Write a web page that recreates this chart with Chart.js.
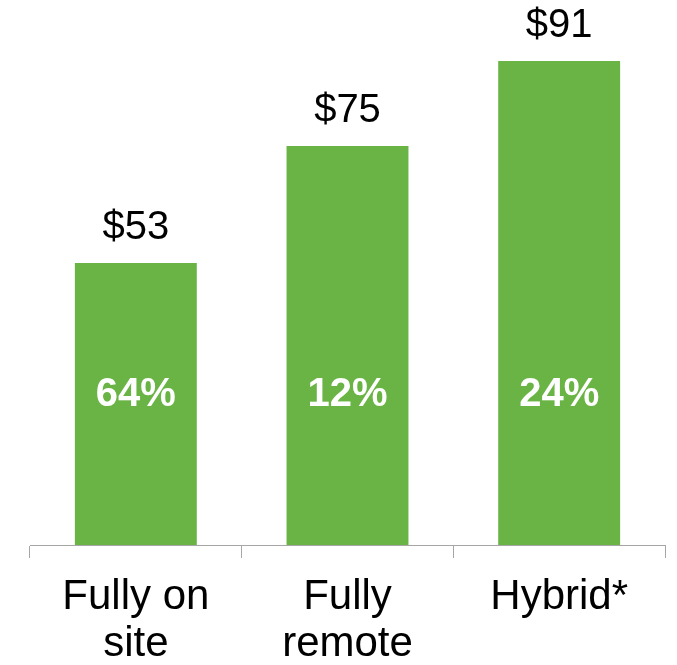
<!DOCTYPE html>
<html>
<head>
<meta charset="utf-8">
<script src="https://cdn.jsdelivr.net/npm/chart.js@4"></script>
<style>
  html, body { margin: 0; padding: 0; background: #fff; }
  #wrap { width: 677px; height: 665px; }
</style>
</head>
<body>
<div id="wrap"><canvas id="chart1"></canvas></div>
<script>
// data
var categories = [["Fully on", "site"], ["Fully", "remote"], "Hybrid*"];
var salaries = [53, 75, 91];
var valueLabels = ["$53", "$75", "$91"];
var shareLabels = ["64%", "12%", "24%"];

var FONT = "'Liberation Sans', Arial, sans-serif";

// draws the $ labels above the bars and the % labels inside
var barLabels = {
  id: "barLabels",
  afterDatasetsDraw: function (chart) {
    var ctx = chart.ctx;
    var meta = chart.getDatasetMeta(0);
    var area = chart.chartArea;
    ctx.save();
    ctx.textAlign = "center";
    ctx.textBaseline = "alphabetic";
    meta.data.forEach(function (bar, i) {
      ctx.fillStyle = "#000";
      ctx.font = "40px " + FONT;
      ctx.fillText(valueLabels[i], bar.x, bar.y - 24);
      ctx.fillStyle = "#fff";
      ctx.font = "bold 40px " + FONT;
      ctx.fillText(shareLabels[i], bar.x, area.bottom - 139);
    });
    ctx.restore();
  }
};

var ctx1 = document.getElementById("chart1").getContext("2d");
var chart1 = new Chart(ctx1, {
  type: "bar",
  data: {
    labels: categories,
    datasets: [{
      data: salaries,
      backgroundColor: "#6AB445",
      borderWidth: 0,
      categoryPercentage: 1,
      barPercentage: 0.576
    }]
  },
  options: {
    responsive: true,
    maintainAspectRatio: false,
    animation: false,
    layout: { padding: { left: 30, right: 12, top: 13, bottom: 0 } },
    plugins: {
      legend: { display: false },
      tooltip: { enabled: false }
    },
    scales: {
      y: { display: false, min: 0, max: 100 },
      x: {
        border: { display: true, color: "#a6a6a6", width: 1 },
        grid: {
          drawOnChartArea: false,
          drawTicks: true,
          tickLength: 13,
          color: "#a6a6a6"
        },
        ticks: {
          color: "#000",
          padding: 15,
          maxRotation: 0,
          autoSkip: false,
          font: { family: FONT, size: 42, lineHeight: 1.14 }
        },
        afterFit: function (scale) {
          scale.height = 120;
        }
      }
    }
  },
  plugins: [barLabels]
});
</script>
</body>
</html>
